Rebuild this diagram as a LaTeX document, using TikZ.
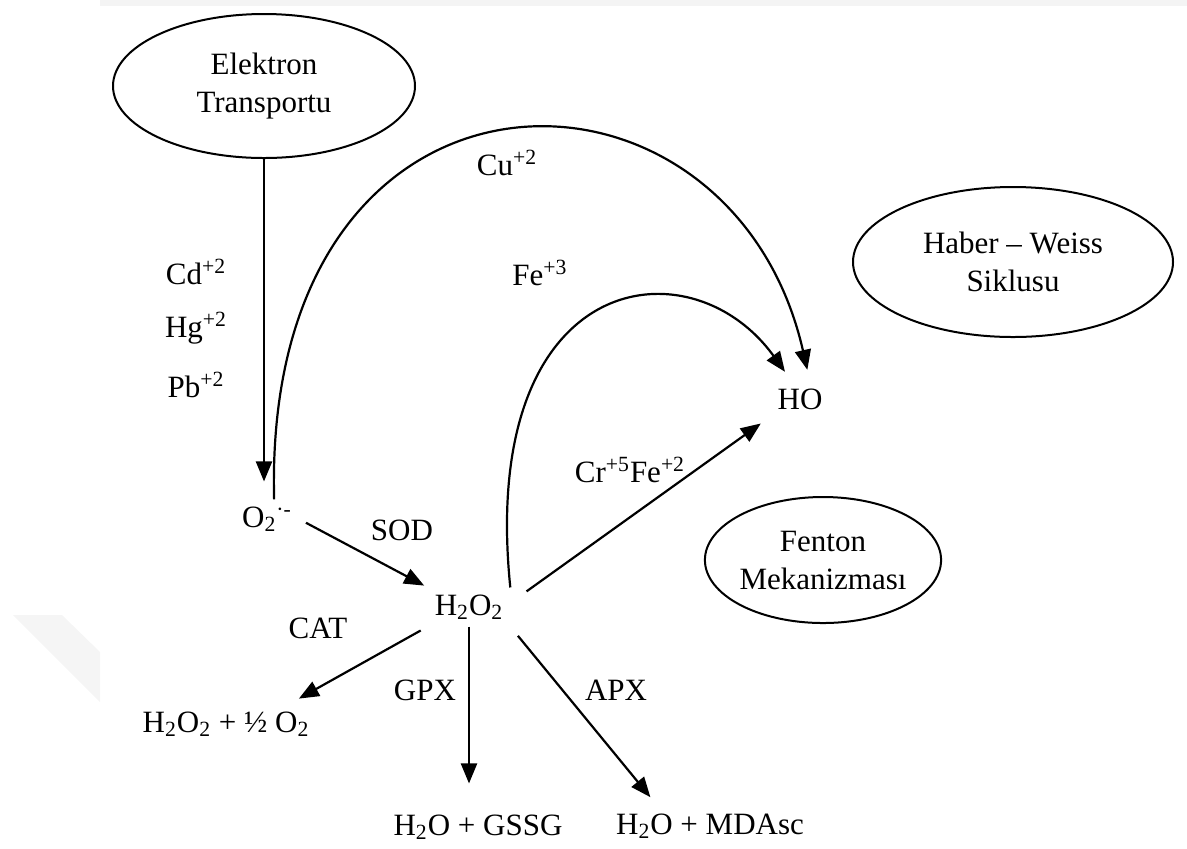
\documentclass[tikz,border=0pt]{standalone}
\usepackage{fontspec}
\setmainfont{Liberation Serif}
\usetikzlibrary{arrows.meta,shapes.geometric}

\tikzset{
	oval/.style={draw, ellipse, line width=1pt, align=center, inner sep=0pt},
	react/.style={-{Triangle[length=10pt,width=8pt]}, line width=1.1pt},
}

\begin{document}
\begin{tikzpicture}[x=0.5pt, y=-0.5pt, font=\fontsize{15.5}{19}\selectfont]
		\useasboundingbox (0,0) rectangle (1187,848);

		% page edge and watermark
		\fill[gray!9] (100,0) rectangle (1187,6);
		\fill[gray!8] (13,615) -- (62,615) -- (100,652) -- (100,702) -- cycle;

		% Elektron transportu
		\node[oval, minimum width=151pt, minimum height=72pt] (elektron) at (264,86) {Elektron\\Transportu};
		\node (cd) at (196,272) {Cd\textsuperscript{+2}};
		\node (hg) at (196,328) {Hg\textsuperscript{+2}};
		\node (pb) at (196,385) {Pb\textsuperscript{+2}};
		\node (o2) at (267,519) {O\textsubscript{2}\textsuperscript{·-}};

		\draw[react, shorten >=9pt] (elektron.south) -- (elektron.south |- o2.north);

		% HO
		\node (ho) at (800,399) {HO};
		\node (cu) at (507,163) {Cu\textsuperscript{+2}};
		\node (fe3) at (540,273) {Fe\textsuperscript{+3}};
		\node (crfe) at (630,470) {Cr\textsuperscript{+5}Fe\textsuperscript{+2}};

		\node[oval, minimum width=160pt, minimum height=75pt] (haber) at (1013,262) {Haber – Weiss\\Siklusu};
		\node[oval, minimum width=116pt, minimum height=63pt] (fenton) at (823,560) {Fenton\\Mekanizması};

		% H2O2
		\node (sod) at (402,530) {SOD};
		\node (h2o2) at (469,607) {H\textsubscript{2}O\textsubscript{2}};
		\node (cat) at (318,628) {CAT};
		\node (gpx) at (425,690) {GPX};
		\node (apx) at (616,690) {APX};
		\node (p1) at (226,724) {H\textsubscript{2}O\textsubscript{2} + ½ O\textsubscript{2}};
		\node (p2) at (478,827) {H\textsubscript{2}O + GSSG};
		\node (p3) at (710,826) {H\textsubscript{2}O + MDAsc};

		\draw[react, shorten >=6pt] (o2.70) .. controls (262,30) and (730,30) .. ([xshift=5pt]ho.north);
		\draw[react, shorten >=6pt] (h2o2.north east) .. controls (478,270) and (690,240) .. ([xshift=-4pt]ho.north);
		\draw[react, shorten <=10pt, shorten >=6pt] ([yshift=2pt]h2o2.east) -- (ho.south west);
		\draw[react, shorten <=4pt, shorten >=2pt] (o2.east) -- (h2o2.north west);
		\draw[react, shorten <=4pt, shorten >=6pt] (h2o2.south west) -- ([xshift=-14pt]p1.north east);
		\draw[react, shorten >=12pt] (h2o2.south) -- (h2o2.south |- p2.north);
		\draw[react, shorten <=6pt, shorten >=6pt] (h2o2.south east) -- ([xshift=-26pt]p3.north);
	\end{tikzpicture}
\end{document}
